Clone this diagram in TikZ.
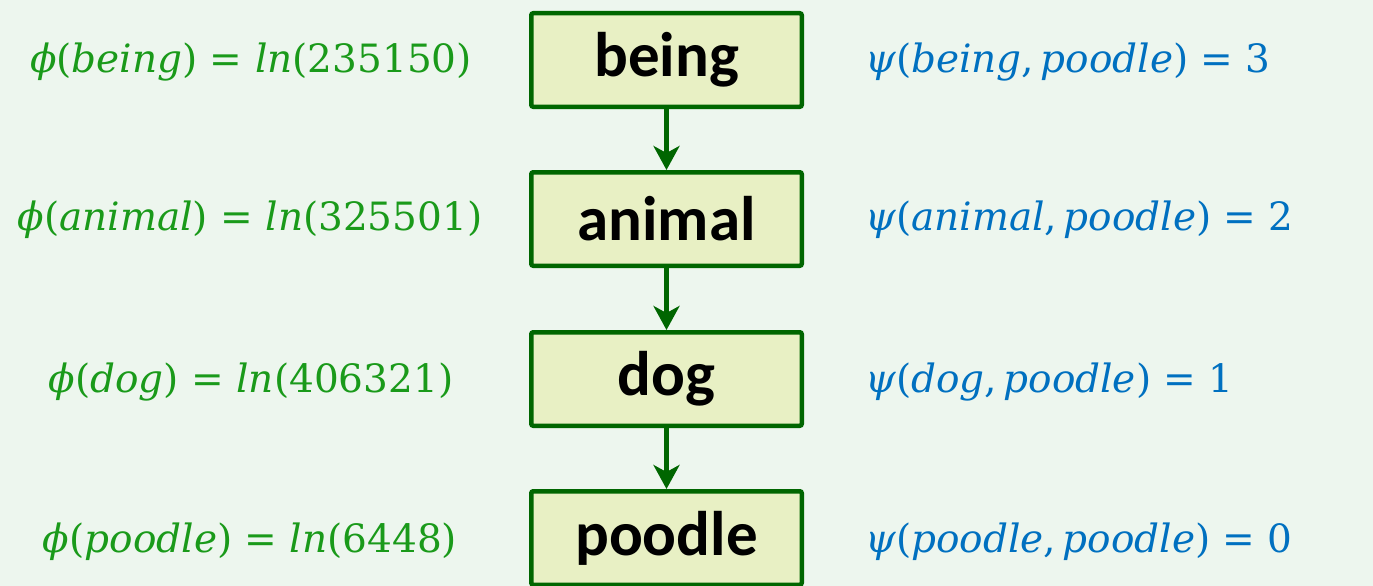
\documentclass[tikz,border=0pt]{standalone}
\usepackage{fontspec}
\setmainfont{DejaVu Serif}
\newfontfamily\boxfont{Carlito}
\usetikzlibrary{arrows.meta}
\definecolor{bgc}{RGB}{237,246,238}
\definecolor{boxfill}{RGB}{232,240,196}
\definecolor{boxline}{RGB}{0,102,0}
\definecolor{phigreen}{RGB}{26,154,26}
\definecolor{psiblue}{RGB}{0,112,192}
\tikzset{
  concept/.style={draw=boxline, fill=boxfill, line width=4.5pt, rounded corners=2pt,
    minimum width=270.5pt, minimum height=93.5pt, inner sep=0pt,
    font=\boxfont\bfseries\fontsize{63}{63}\selectfont, text=black},
  phil/.style={text=phigreen, font=\fontsize{39}{39}\selectfont, inner sep=0pt, anchor=center},
  psil/.style={text=psiblue, font=\fontsize{39}{39}\selectfont, inner sep=0pt, anchor=west},
  link/.style={draw=boxline, line width=4.5pt, -{Stealth[length=24pt,width=26pt,inset=7pt]}}
}
\newcommand{\vv}[1]{\textit{#1}}
\begin{document}
\begin{tikzpicture}[x=1pt,y=1pt]
\useasboundingbox (0,0) rectangle (1373,-586);
\clip (0,0) rectangle (1373,-586);
\fill[bgc] (0,0) rectangle (1373,-586);
\node[concept] (being) at (666.5,-60) {being};
\node[concept] (animal) at (666.5,-219) {animal};
\node[concept] (dog) at (666.5,-379) {dog};
\node[concept] (poodle) at (666.5,-538) {poodle};
\draw[link] (being.south) -- (animal.north);
\draw[link] (animal.south) -- (dog.north);
\draw[link] (dog.south) -- (poodle.north);
\node[phil] (p1) at (251,-62) {\vv{ϕ}(\vv{being}) = \vv{ln}(235150)};
\node[phil] (p2) at (250,-220) {\vv{ϕ}(\vv{animal}) = \vv{ln}(325501)};
\node[phil] (p3) at (251,-382) {\vv{ϕ}(\vv{dog}) = \vv{ln}(406321)};
\node[phil] (p4) at (250,-542) {\vv{ϕ}(\vv{poodle}) = \vv{ln}(6448)};
\node[psil] (q1) at (865,-62) {\vv{ψ}(\vv{being},\,\vv{poodle}) = 3};
\node[psil] (q2) at (865,-220) {\vv{ψ}(\vv{animal},\,\vv{poodle}) = 2};
\node[psil] (q3) at (865,-382) {\vv{ψ}(\vv{dog},\,\vv{poodle}) = 1};
\node[psil] (q4) at (865,-542) {\vv{ψ}(\vv{poodle},\,\vv{poodle}) = 0};
\end{tikzpicture}
\end{document}
